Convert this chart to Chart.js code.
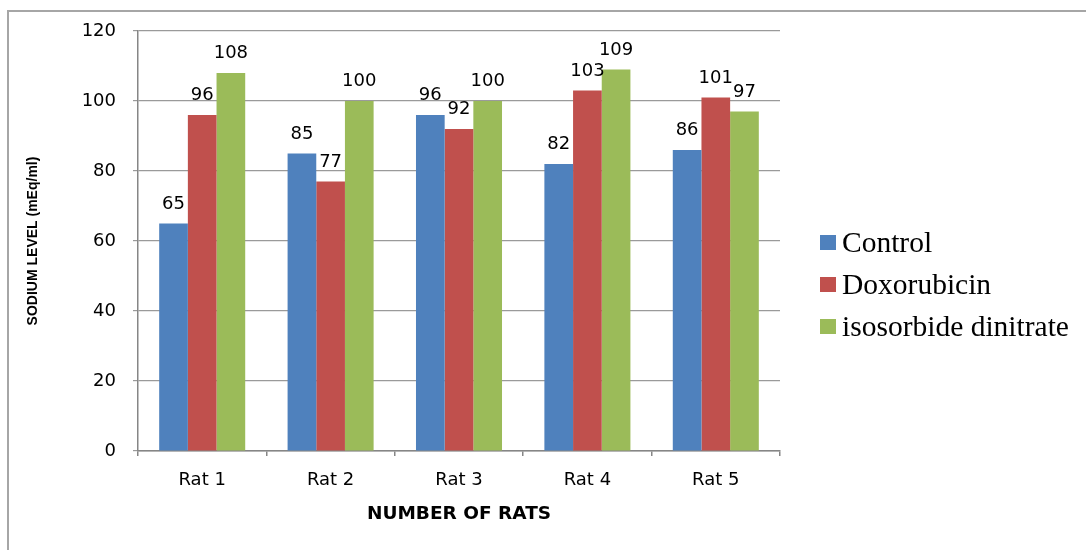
<!DOCTYPE html>
<html>
<head>
<meta charset="utf-8">
<script src="https://cdn.jsdelivr.net/npm/chart.js@4/dist/chart.umd.min.js"></script>
<style>
  html, body { margin: 0; padding: 0; background: #fff; }
  #wrap { position: relative; width: 1086px; height: 550px; overflow: hidden; }
  #frame { position: absolute; left: 7px; top: 10px; right: -10px; bottom: -10px;
           border-left: 2px solid #a6a6a6; border-top: 2px solid #a6a6a6; pointer-events: none; }
  #chart { position: absolute; left: 0; top: 0; }
  #legend { position: absolute; left: 820px; top: 221px; font-family: "Liberation Serif", "Times New Roman", serif;
            font-size: 29.5px; color: #000; }
  #legend .row { display: flex; align-items: center; height: 42px; }
  #legend .sw { width: 16px; height: 15px; margin-right: 6px; flex: none; }
</style>
</head>
<body>
<div id="wrap">
  <canvas id="chart" width="1086" height="550"></canvas>
  <div id="frame"></div>
  <div id="legend"></div>
</div>
<script>
// Sodium level per rat for each treatment group
const categories = ['Rat 1', 'Rat 2', 'Rat 3', 'Rat 4', 'Rat 5'];
const seriesNames = ['Control', 'Doxorubicin', 'isosorbide dinitrate'];
const controlValues = [65, 85, 96, 82, 86];
const doxorubicinValues = [96, 77, 92, 103, 101];
const isosorbideValues = [108, 100, 100, 109, 97];
const seriesColors = ['#4f81bd', '#c0504d', '#9bbb59'];
const yTicks = [0, 20, 40, 60, 80, 100, 120];

const seriesValues = [controlValues, doxorubicinValues, isosorbideValues];

// Value labels above each bar
const valueLabels = {
  id: 'valueLabels',
  afterDatasetsDraw(chart) {
    const ctx = chart.ctx;
    ctx.save();
    ctx.font = '18px "DejaVu Sans"';
    ctx.fillStyle = '#000';
    ctx.textAlign = 'center';
    ctx.textBaseline = 'alphabetic';
    chart.data.datasets.forEach((ds, di) => {
      const meta = chart.getDatasetMeta(di);
      meta.data.forEach((bar, i) => {
        ctx.fillText(String(ds.data[i]), bar.x, bar.y - 15);
      });
    });
    ctx.restore();
  }
};

Chart.defaults.font.family = '"DejaVu Sans"';
Chart.defaults.color = '#000';

new Chart(document.getElementById('chart'), {
  type: 'bar',
  data: {
    labels: categories,
    datasets: seriesNames.map((name, i) => ({
      label: name,
      data: seriesValues[i],
      backgroundColor: seriesColors[i],
      borderWidth: 0,
      categoryPercentage: 0.67,
      barPercentage: 1.0
    }))
  },
  options: {
    responsive: false,
    animation: false,
    devicePixelRatio: 1,
    layout: { padding: { left: 0, right: 306, top: 31, bottom: 0 } },
    plugins: {
      legend: { display: false },
      tooltip: { enabled: false }
    },
    scales: {
      x: {
        grid: { display: true, drawOnChartArea: false, drawTicks: true, tickLength: 5, color: '#868686', lineWidth: 1.5 },
        border: { display: true, color: '#868686', width: 1.5 },
        ticks: { font: { size: 18, lineHeight: 1.2 }, padding: 14, color: '#000' },
        title: { display: true, text: 'NUMBER OF RATS', font: { size: 18.5, weight: 'bold', lineHeight: 1.2 },
                 padding: { top: 0, bottom: 25 }, color: '#000' },
        afterFit(scale) { scale.height = 99; }
      },
      y: {
        min: 0, max: 120,
        afterBuildTicks(scale) { scale.ticks = yTicks.map(v => ({ value: v })); },
        grid: { color: '#9a9a9a', lineWidth: 1.2, tickLength: 5, drawTicks: true },
        border: { display: true, color: '#868686', width: 1.5 },
        ticks: { font: { size: 18, lineHeight: 1.2 }, padding: 17, color: '#000' },
        title: { display: true, text: 'SODIUM LEVEL (mEq/ml)',
                 font: { family: '"Liberation Sans"', size: 14, weight: 'bold', lineHeight: 1.2 },
                 padding: { top: 24.6, bottom: 0 }, color: '#000' },
        afterFit(scale) { scale.width = 138; }
      }
    }
  },
  plugins: [valueLabels]
});

// Legend beside the plot
const legendEl = document.getElementById('legend');
seriesNames.forEach((name, i) => {
  const row = document.createElement('div');
  row.className = 'row';
  const sw = document.createElement('span');
  sw.className = 'sw';
  sw.style.background = seriesColors[i];
  const txt = document.createElement('span');
  txt.textContent = name;
  row.appendChild(sw);
  row.appendChild(txt);
  legendEl.appendChild(row);
});
</script>
</body>
</html>
